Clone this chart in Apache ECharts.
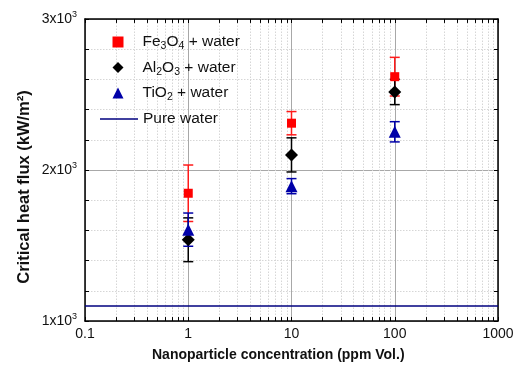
<!DOCTYPE html>
<html>
<head>
<meta charset="utf-8">
<script src="https://cdn.jsdelivr.net/npm/echarts@6/dist/echarts.min.js"></script>
<style>
html,body{margin:0;padding:0;background:#fff;}
#chart{width:519px;height:369px;}
</style>
</head>
<body>
<div id="chart"></div>
<script>
// ---- data ----
var concentrations = [1, 10, 100];
var fe3o4Mean = [1846, 2310, 2618];
var fe3o4Err  = [187, 77, 128];
var al2o3Mean = [1538, 2100, 2517];
var al2o3Err  = [145, 113, 84];
var tio2Mean  = [1605, 1893, 2253];
var tio2Err   = [110, 50, 67];
var pureWaterX = [0.1, 1000];
var pureWaterY = [1100, 1100];
var xTickLabels = ['0.1', '1', '10', '100', '1000'];
var yTickLabels = ['1x10^3', '2x10^3', '3x10^3'];
var xMinor = [0.2,0.3,0.4,0.5,0.6,0.7,0.8,0.9, 2,3,4,5,6,7,8,9, 20,30,40,50,60,70,80,90, 200,300,400,500,600,700,800,900];

var FONT = '"Liberation Sans", Arial, sans-serif';
var chart = echarts.init(document.getElementById('chart'), null, {renderer: 'canvas'});

function pts(mean) { return concentrations.map(function (x, i) { return [x, mean[i]]; }); }
function errs(mean, err) { return concentrations.map(function (x, i) { return [x, mean[i] - err[i], mean[i] + err[i]]; }); }

function errSeries(name, mean, err, color) {
  return {
    name: name, type: 'custom', xAxisIndex: 0, yAxisIndex: 0, silent: true, z: 3,
    data: errs(mean, err),
    renderItem: function (params, api) {
      var x = api.value(0);
      var lo = api.coord([x, api.value(1)]);
      var hi = api.coord([x, api.value(2)]);
      var w = 5;
      var st = {stroke: color, lineWidth: 1.5};
      return {type: 'group', children: [
        {type: 'line', shape: {x1: lo[0], y1: lo[1], x2: hi[0], y2: hi[1]}, style: st},
        {type: 'line', shape: {x1: lo[0] - w, y1: lo[1], x2: lo[0] + w, y2: lo[1]}, style: st},
        {type: 'line', shape: {x1: hi[0] - w, y1: hi[1], x2: hi[0] + w, y2: hi[1]}, style: st}
      ]};
    }
  };
}

// minor grid lines and ticks on the log axis
var minorGrid = xMinor.map(function (v) { return {xAxis: v}; });
var tickLenY = 26; // data units (~4px)
var minorTicks = [];
xMinor.forEach(function (v) {
  minorTicks.push([{coord: [v, 1000]}, {coord: [v, 1000 + tickLenY]}]);
  minorTicks.push([{coord: [v, 3000]}, {coord: [v, 3000 - tickLenY]}]);
});

var fmtY = function (v) {
  var idx = Math.round((v - 1000) / 1000);
  var s = yTickLabels[idx] || '';
  var parts = s.split('^');
  return '{n|' + parts[0] + '}{p|' + parts[1] + '}';
};
var fmtX = function (v) {
  var idx = Math.round(Math.log10(v) + 1);
  return xTickLabels[idx];
};

var legendRich = {
  g: {width: 14, fontSize: 15.5, lineHeight: 20},
  n: {fontSize: 15.5, fontFamily: FONT, color: '#111', lineHeight: 20},
  s: {fontSize: 10.5, fontFamily: FONT, color: '#111', lineHeight: 11, verticalAlign: 'bottom'}
};
var legendNames = {
  'Fe3O4 + water': '{g| }{n|Fe}{s|3}{n|O}{s|4}{n| + water}',
  'Al2O3 + water': '{g| }{n|Al}{s|2}{n|O}{s|3}{n| + water}',
  'TiO2 + water': '{g| }{n|TiO}{s|2}{n| + water}',
  'Pure water': '{n|Pure water}'
};

var MINOR_GRID = {color: '#d6d6d6', width: 1, type: [1.5, 1.5]};

var option = {
  animation: false,
  backgroundColor: '#fff',
  grid: {left: 85, top: 19, width: 413, height: 302, containLabel: false},
  legend: [{
    orient: 'vertical', left: 112.5, top: 34, padding: 0, z: 10,
    itemWidth: 11, itemHeight: 11, itemGap: 7.5,
    data: [
      {name: 'Fe3O4 + water', icon: 'rect'},
      {name: 'Al2O3 + water', icon: 'diamond'},
      {name: 'TiO2 + water', icon: 'triangle'}
    ],
    formatter: function (n) { return legendNames[n]; },
    textStyle: {fontFamily: FONT, fontSize: 15.5, color: '#111', rich: legendRich},
    selectedMode: false
  }, {
    orient: 'vertical', left: 100, top: 111, padding: 0, z: 10,
    itemWidth: 38, itemHeight: 1.6,
    data: [{name: 'Pure water', icon: 'rect'}],
    formatter: function (n) { return legendNames[n]; },
    textStyle: {fontFamily: FONT, fontSize: 15.5, color: '#111', rich: legendRich},
    selectedMode: false
  }],
  xAxis: [{
    type: 'log', logBase: 10, min: 0.1, max: 1000, position: 'bottom',
    axisLine: {show: true, onZero: false, lineStyle: {color: '#000', width: 1.5}},
    axisTick: {show: true, inside: true, length: 4, lineStyle: {color: '#000', width: 1}},
    axisLabel: {show: true, formatter: fmtX, fontFamily: FONT, fontSize: 14, color: '#111', margin: 6},
    splitLine: {show: true, lineStyle: {color: '#a8a8a8', width: 1}},
    minorTick: {show: false}, minorSplitLine: {show: false}
  }, {
    type: 'log', logBase: 10, min: 0.1, max: 1000, position: 'top',
    axisLine: {show: true, onZero: false, lineStyle: {color: '#000', width: 1.5}},
    axisTick: {show: true, inside: true, length: 4, lineStyle: {color: '#000', width: 1}},
    axisLabel: {show: false}, splitLine: {show: false}
  }],
  yAxis: [{
    type: 'value', min: 1000, max: 3000, interval: 1000, position: 'left',
    axisLine: {show: true, onZero: false, lineStyle: {color: '#000', width: 1.5}},
    axisTick: {show: true, inside: true, length: 4, lineStyle: {color: '#000', width: 1}},
    minorTick: {show: true, splitNumber: 5, length: 4, lineStyle: {color: '#000', width: 1}},
    axisLabel: {show: true, formatter: fmtY, margin: 8, color: '#111',
      rich: {
        n: {fontSize: 14, fontFamily: FONT, color: '#111', lineHeight: 18},
        p: {fontSize: 9, fontFamily: FONT, color: '#111', lineHeight: 10, verticalAlign: 'top'}
      }},
    splitLine: {show: true, lineStyle: {color: '#a8a8a8', width: 1}},
    minorSplitLine: {show: true, lineStyle: MINOR_GRID}
  }, {
    type: 'value', min: 1000, max: 3000, interval: 1000, position: 'right',
    axisLine: {show: true, onZero: false, lineStyle: {color: '#000', width: 1.5}},
    axisTick: {show: true, inside: true, length: 4, lineStyle: {color: '#000', width: 1}},
    minorTick: {show: true, splitNumber: 5, length: 4, lineStyle: {color: '#000', width: 1}},
    axisLabel: {show: false}, splitLine: {show: false}
  }],
  graphic: [
    {type: 'text', x: 152, y: 355, style: {text: 'Nanoparticle concentration (ppm Vol.)', font: 'bold 14px ' + FONT, fill: '#111', align: 'left', verticalAlign: 'middle'}},
    {type: 'text', x: 24, y: 187, rotation: Math.PI / 2,
      style: {text: 'Critical heat flux (kW/m²)', font: 'bold 16.5px ' + FONT, fill: '#111', align: 'center', verticalAlign: 'middle'}}
  ],
  series: [
    {
      name: 'minor-grid', type: 'line', data: [], silent: true, z: 1,
      markLine: {silent: true, symbol: 'none', label: {show: false}, animation: false, z: 1,
        lineStyle: MINOR_GRID, data: minorGrid}
    },
    {
      name: 'minor-ticks', type: 'line', data: [], silent: true, z: 5,
      markLine: {silent: true, symbol: 'none', label: {show: false}, animation: false, z: 5,
        lineStyle: {color: '#000', width: 1, type: 'solid'}, data: minorTicks}
    },
    {
      name: 'Pure water', type: 'line', showSymbol: false, symbol: 'none', z: 2,
      data: pureWaterX.map(function (x, i) { return [x, pureWaterY[i]]; }),
      lineStyle: {color: '#00007f', width: 1.5}, itemStyle: {color: '#00007f'}
    },
    errSeries('fe-err', fe3o4Mean, fe3o4Err, '#ff1a1a'),
    {name: 'Fe3O4 + water', type: 'scatter', symbol: 'rect', symbolSize: 9, z: 4,
      data: pts(fe3o4Mean), itemStyle: {color: '#ff0000', opacity: 1}},
    errSeries('al-err', al2o3Mean, al2o3Err, '#000000'),
    {name: 'Al2O3 + water', type: 'scatter', symbol: 'diamond', symbolSize: 13, z: 4,
      data: pts(al2o3Mean), itemStyle: {color: '#000000', opacity: 1}},
    errSeries('ti-err', tio2Mean, tio2Err, '#0000a8'),
    {name: 'TiO2 + water', type: 'scatter', symbol: 'triangle', symbolSize: 12, z: 4,
      data: pts(tio2Mean), itemStyle: {color: '#0000a8', opacity: 1}}
  ]
};
chart.setOption(option);
</script>
</body>
</html>
